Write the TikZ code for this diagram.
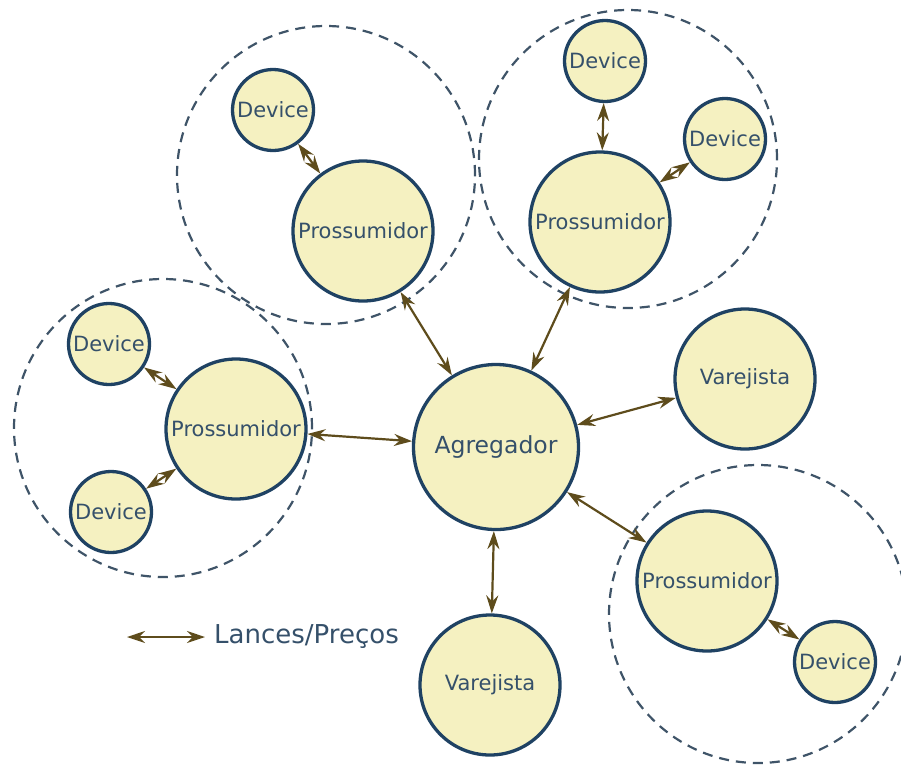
\documentclass[tikz,border=0pt]{standalone}
\usepackage{fontspec}
\setmainfont{DejaVu Sans}
\usetikzlibrary{arrows.meta}
\definecolor{nodefill}{HTML}{F5F1C1}
\definecolor{nodeline}{HTML}{1F4263}
\definecolor{nodetext}{HTML}{35506A}
\definecolor{linkcol}{HTML}{5E4C1C}
\definecolor{groupline}{HTML}{3F5468}
\tikzset{
  x=1pt, y=-1pt,
  agent/.style={circle, draw=nodeline, line width=3.3pt, fill=nodefill,
    text=nodetext, inner sep=0pt, font=\fontsize{21}{21}\selectfont},
  big/.style={agent, minimum size=140pt},
  small/.style={agent, minimum size=81pt},
  hub/.style={agent, minimum size=165pt, font=\fontsize{23.5}{23.5}\selectfont},
  group/.style={circle, draw=groupline, line width=2.2pt,
    dash pattern=on 10pt off 7pt, inner sep=0pt, minimum size=298pt},
  bid/.style={draw=linkcol, line width=2.2pt,
    >={Stealth[length=18pt,width=12pt,inset=6pt]}, <->},
}
\begin{document}
\begin{tikzpicture}
\useasboundingbox (0,0) rectangle (901,764);

% coalitions of prosumers with their devices
\node[group] (gTL) at (326,175) {};
\node[group] (gTR) at (628,159) {};
\node[group] (gL)  at (163,428) {};
\node[group] (gBR) at (758,614) {};

% agents
\node[hub]   (agg) at (496,447) {Agregador};
\node[big]   (pTL) at (363,231) {Prossumidor};
\node[small] (dTL) at (273,110) {Device};
\node[big]   (pTR) at (600,222) {Prossumidor};
\node[small] (dTR1) at (605,61) {Device};
\node[small] (dTR2) at (725,139) {Device};
\node[big]   (pL)  at (236,429) {Prossumidor};
\node[small] (dL1) at (109,344) {Device};
\node[small] (dL2) at (111,512) {Device};
\node[big]   (pBR) at (707,581) {Prossumidor};
\node[small] (dBR) at (835,662) {Device};
\node[big]   (vR)  at (745,379) {Varejista};
\node[big]   (vB)  at (490,685) {Varejista};

% bid / price exchanges
\draw[bid] (agg) -- (pTL);
\draw[bid] (agg) -- (pTR);
\draw[bid] (agg) -- (pL);
\draw[bid] (agg) -- (pBR);
\draw[bid] (agg) -- (vR);
\draw[bid] (agg) -- (vB);
\draw[bid] (pTL) -- (dTL);
\draw[bid] (pTR) -- (dTR1);
\draw[bid] (pTR) -- (dTR2);
\draw[bid] (pL) -- (dL1);
\draw[bid] (pL) -- (dL2);
\draw[bid] (pBR) -- (dBR);

% legend
\coordinate (legA) at (127,637);
\coordinate (legB) at (205,637);
\draw[bid] (legA) -- (legB);
\node[anchor=west, text=nodetext, inner sep=0pt,
  font=\fontsize{26}{26}\selectfont] (legT) at (214,637) {Lances/Preços};
\end{tikzpicture}
\end{document}
